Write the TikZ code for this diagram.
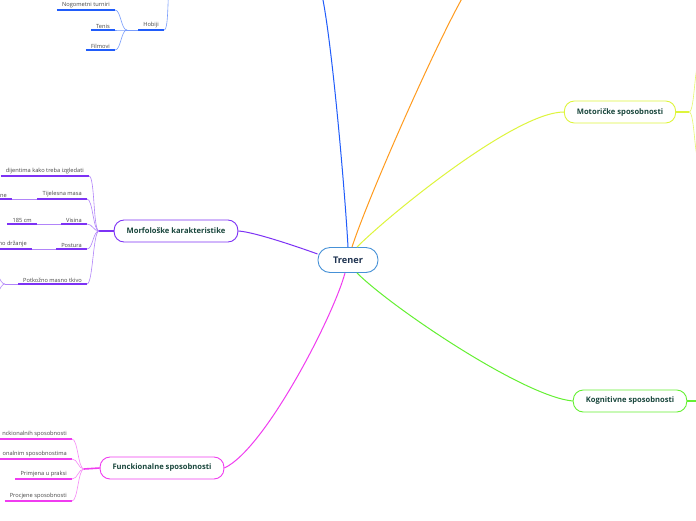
\documentclass[tikz,border=0pt]{standalone}
\usepackage{fontspec}
\setmainfont{Open Sans}
\usetikzlibrary{positioning, calc}
\definecolor{cblue}{RGB}{32,92,250}
\definecolor{corange}{RGB}{255,155,30}
\definecolor{cmotor}{RGB}{222,245,60}
\definecolor{ckogn}{RGB}{100,240,50}
\definecolor{cfunk}{RGB}{240,60,240}
\definecolor{cmorf}{RGB}{125,50,245}
\definecolor{ctrener}{RGB}{70,145,215}
\definecolor{croot}{RGB}{30,50,80}
\definecolor{ctext}{RGB}{25,70,60}
\definecolor{cleaf}{RGB}{70,70,70}

\begin{document}
\begin{tikzpicture}[x=1pt, y=-1pt,
    root/.style={draw=ctrener, line width=0.9pt, rounded corners=12pt, fill=white,
      minimum height=25pt, inner xsep=15pt, font=\fontsize{9.2}{11}\selectfont\bfseries, text=croot},
    topic/.style={draw, line width=0.9pt, rounded corners=10pt, fill=white,
      minimum height=22pt, inner xsep=12.5pt, font=\fontsize{7.6}{9}\selectfont\bfseries, text=ctext},
    leaf/.style={anchor=south east, inner xsep=5pt, inner ysep=1.6pt,
      font=\fontsize{5.7}{7}\selectfont, text=cleaf},
    branch/.style={line width=1pt, looseness=0.5},
    uline/.style={line width=1.6pt},
    twig/.style={line width=0.6pt, out=180, in=0, max distance=6pt}]

  \path[use as bounding box, fill=white] (0,0) rectangle (696,520);

  % --- Središte i glavne grane ---

  \node[root] (trener) at (348,260) {Trener};
  \node[topic, draw=cmotor] (motor) at (620,112) {Motoričke sposobnosti};
  \node[topic, draw=ckogn] (kogn) at (630,401) {Kognitivne sposobnosti};
  \node[topic, draw=cfunk] (funk) at (162,468) {Funckionalne sposobnosti};
  \node[topic, draw=cmorf] (morf) at (176,231) {Morfološke karakteristike};

  \coordinate (topblue) at (322,-5);
  \coordinate (toporange) at (464,-5);

  \draw[branch, cblue] (trener.north) to[out=93, in=-78] (topblue);
  \draw[branch, corange] ([xshift=4pt]trener.north) to[out=72, in=240] (toporange);
  \draw[branch, cmotor] ([xshift=9pt]trener.north) to[out=45, in=180] (motor.west);
  \draw[branch, ckogn] ([xshift=9pt]trener.south) to[out=-45, in=175] (kogn.west);
  \draw[branch, cfunk] ([xshift=-3pt]trener.south) to[out=-105, in=25] (funk.east);
  \draw[branch, cmorf] (morf.east) to[out=-3, in=160] ([yshift=6pt]trener.west);

  % --- Motoričke / Kognitivne (desni rub) ---

  \coordinate (motorj) at (689,112);
  \coordinate (motora) at (700,62);
  \coordinate (motorb) at (700,162);
  \draw[uline, cmotor] (motor.east) -- (motorj);
  \draw[twig, cmotor!75, out=0, in=180] (motorj) to (motora);
  \draw[twig, cmotor!75, out=0, in=180] (motorj) to (motorb);

  \coordinate (kognr) at (700,401);
  \draw[uline, ckogn] (kogn.east) -- (kognr);

  % --- Morfološke karakteristike ---

  \coordinate (morfj) at (99,231);
  \node[leaf] (izgled) at (89,176) {dijentima kako treba izgledati};
  \node[leaf] (masa) at (87,199) {Tijelesna masa};
  \node[leaf] (visina) at (87,224) {Visina};
  \node[leaf] (postura) at (87,249) {Postura};
  \node[leaf] (potkoz) at (87,284) {Potkožno masno tkivo};
  \node[leaf] (masane) at (12,199) {ne};
  \node[leaf] (visinacm) at (37,224) {185 cm};
  \node[leaf] (drzanje) at (32,249) {no držanje};
  \coordinate (potkozj) at (5,284);
  \coordinate (potkoza) at (-8,268);
  \coordinate (potkozb) at (-8,300);

  \draw[uline, cmorf] (morf.west) -- (morfj);
  \draw[uline, cmorf] (izgled.south west) -- (izgled.south east);
  \draw[uline, cmorf] (masa.south west) -- (masa.south east);
  \draw[uline, cmorf] (visina.south west) -- (visina.south east);
  \draw[uline, cmorf] (postura.south west) -- (postura.south east);
  \draw[uline, cmorf] (potkoz.south west) -- (potkoz.south east);
  \draw[uline, cmorf] (masane.south west) -- (masane.south east);
  \draw[uline, cmorf] (visinacm.south west) -- (visinacm.south east);
  \draw[uline, cmorf] (drzanje.south west) -- (drzanje.south east);

  \draw[twig, cmorf!60] (morfj) to (izgled.south east);
  \draw[twig, cmorf!60] (morfj) to (masa.south east);
  \draw[twig, cmorf!60] (morfj) to (visina.south east);
  \draw[twig, cmorf!60] (morfj) to (postura.south east);
  \draw[twig, cmorf!60] (morfj) to (potkoz.south east);
  \draw[twig, cmorf!60] (masa.south west) -- (masane.south east);
  \draw[twig, cmorf!60] (visina.south west) -- (visinacm.south east);
  \draw[twig, cmorf!60] (postura.south west) -- (drzanje.south east);
  \draw[twig, cmorf!60] (potkoz.south west) -- (potkozj);
  \draw[twig, cmorf!60] (potkozj) to (potkoza);
  \draw[twig, cmorf!60] (potkozj) to (potkozb);

  % --- Funckionalne sposobnosti ---

  \coordinate (funkj) at (84,469);
  \node[leaf] (razvoj) at (72,439) {nckionalnih sposobnosti};
  \node[leaf] (znanje) at (72,459) {onalnim sposobnostima};
  \node[leaf] (praksa) at (72,479) {Primjena u praksi};
  \node[leaf] (procjena) at (72,501) {Procjene sposobnosti};

  \draw[uline, cfunk] (funk.west) -- (funkj);
  \draw[uline, cfunk] (razvoj.south west) -- (razvoj.south east);
  \draw[uline, cfunk] (znanje.south west) -- (znanje.south east);
  \draw[uline, cfunk] (praksa.south west) -- (praksa.south east);
  \draw[uline, cfunk] (procjena.south west) -- (procjena.south east);
  \draw[twig, cfunk!60] (funkj) to (razvoj.south east);
  \draw[twig, cfunk!60] (funkj) to (znanje.south east);
  \draw[twig, cfunk!60] (funkj) to (praksa.south east);
  \draw[twig, cfunk!60] (funkj) to (procjena.south east);

  % --- Hobiji (gore lijevo) ---

  \node[leaf] (hobi) at (164,30) {Hobiji};
  \coordinate (hobij) at (127,30);
  \coordinate (hobiup) at (172,-20);
  \node[leaf] (nogomet) at (115,10) {Nogometni turniri};
  \node[leaf] (tenis) at (115,30) {Tenis};
  \node[leaf] (film) at (115,50) {Filmovi};

  \draw[uline, cblue] (hobi.south west) -- (hobi.south east);
  \draw[uline, cblue] (nogomet.south west) -- (nogomet.south east);
  \draw[uline, cblue] (tenis.south west) -- (tenis.south east);
  \draw[uline, cblue] (film.south west) -- (film.south east);
  \draw[twig, cblue!60, out=0, in=180] (hobi.south east) to (hobiup);
  \draw[twig, cblue!60] (hobi.south west) -- (hobij);
  \draw[twig, cblue!60] (hobij) to (nogomet.south east);
  \draw[twig, cblue!60] (hobij) to (tenis.south east);
  \draw[twig, cblue!60] (hobij) to (film.south east);
\end{tikzpicture}
\end{document}
